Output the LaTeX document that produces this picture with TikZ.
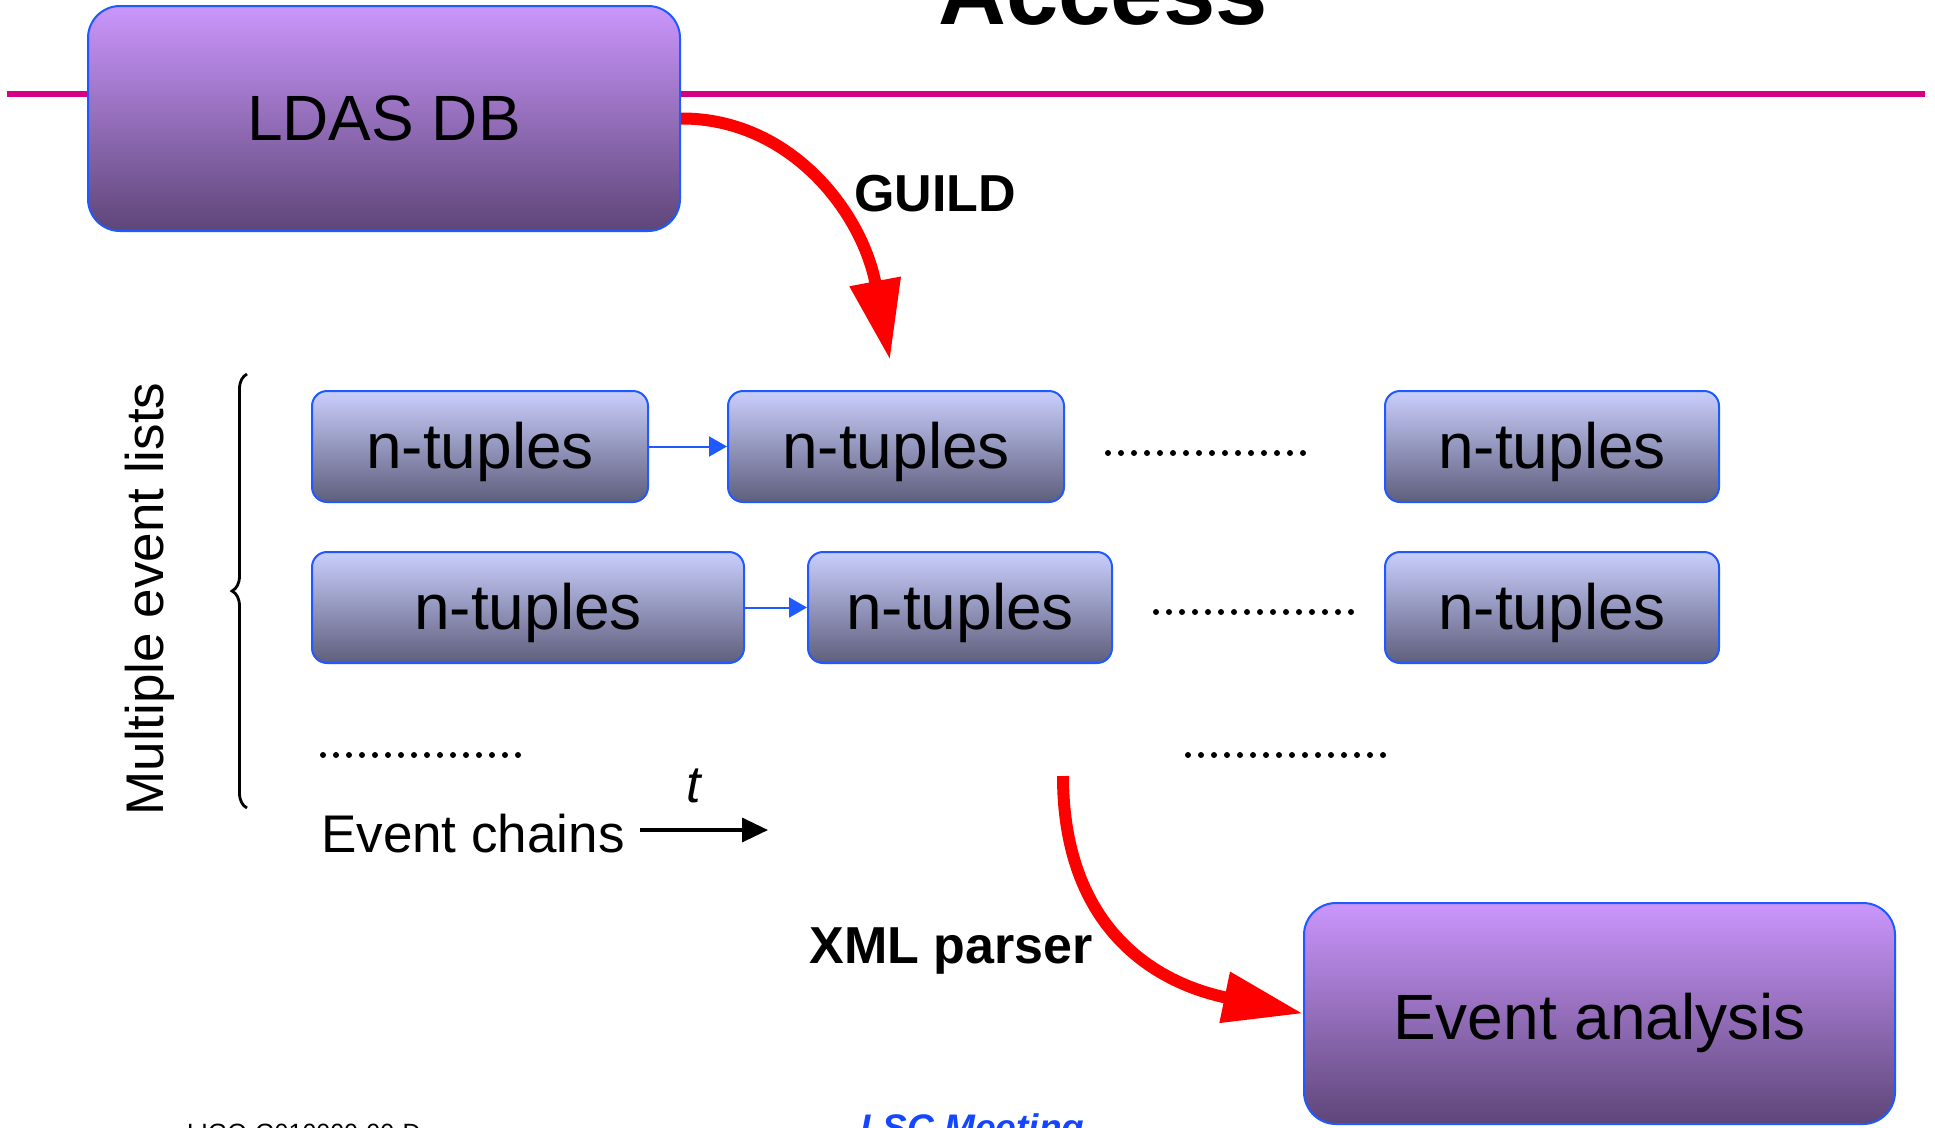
\documentclass[tikz,border=0pt]{standalone}
\usepackage{fontspec}
\setmainfont{Liberation Sans}
\usetikzlibrary{arrows.meta,decorations.pathreplacing}
\definecolor{boxborder}{RGB}{30,90,255}
\definecolor{ptop}{RGB}{202,150,252}
\definecolor{pbot}{RGB}{94,70,120}
\definecolor{ntop}{RGB}{202,206,252}
\definecolor{nbot}{RGB}{94,94,124}
\definecolor{magline}{RGB}{214,0,135}
\definecolor{arrred}{RGB}{255,0,0}
\definecolor{lscblue}{RGB}{20,70,255}
\begin{document}
\begin{tikzpicture}[x=1pt,y=-1pt,
  bigbox/.style={draw=boxborder, line width=2pt, rounded corners=32pt, top color=ptop, bottom color=pbot, inner sep=0pt, font=\fontsize{64}{70}\selectfont},
  ntbox/.style={draw=boxborder, line width=2pt, rounded corners=15pt, top color=ntop, bottom color=nbot, inner sep=0pt, minimum height=111pt, text height=47pt, text depth=3.5pt, font=\fontsize{64}{70}\selectfont},
  chain/.style={draw=boxborder, line width=2pt, -{Triangle[length=18pt,width=20pt]}},
  flow/.style={draw=arrred, line width=12pt, -{Triangle[length=80pt,width=49pt]}},
  lbl/.style={font=\fontsize{52}{56}\selectfont\bfseries},
  plain/.style={font=\fontsize{53}{58}\selectfont},
  dotrow/.style={fill=black}
]
\useasboundingbox (0,0) rectangle (1935,1127);
\clip (0,0) rectangle (1935,1127);

% rule and title
\draw[magline, line width=5.5pt] (7,94) -- (1925,94);
\node[font=\fontsize{94}{100}\selectfont\bfseries, anchor=base] (title) at (1103,24) {Access};

% main boxes
\node[bigbox, minimum width=592pt, minimum height=225pt] (ldas) at (384,118.5) {LDAS DB};
\node[bigbox, minimum width=591pt, minimum height=221pt, text height=51pt, text depth=0pt] (evt) at (1599.5,1013.5) {Event analysis};

% n-tuple boxes
\node[ntbox, minimum width=336pt] (a1) at (480,446.5) {n-tuples};
\node[ntbox, minimum width=336pt] (a2) at (896,446.5) {n-tuples};
\node[ntbox, minimum width=334pt] (a3) at (1552,446.5) {n-tuples};
\node[ntbox, minimum width=432pt] (b1) at (528,607.5) {n-tuples};
\node[ntbox, minimum width=304pt] (b2) at (960,607.5) {n-tuples};
\node[ntbox, minimum width=334pt] (b3) at (1552,607.5) {n-tuples};

\draw[chain] (a1.east) -- (a2.west);
\draw[chain] (b1.east) -- (b2.west);

% dotted ellipses
\foreach \i in {0,...,15} {
  \fill[dotrow] (1108+13*\i,453) circle[radius=3pt];
  \fill[dotrow] (1156+13*\i,612) circle[radius=3pt];
  \fill[dotrow] (323+13*\i,755) circle[radius=3pt];
  \fill[dotrow] (1188+13*\i,755) circle[radius=3pt];
}

% brace and side label
\draw[line width=2.8pt, decorate, decoration={brace, amplitude=15pt}] (247,808) -- (247,374);
\node[rotate=90, plain] (mel) at (150,599) {Multiple event lists};

% event chains and time arrow
\node[plain, anchor=base west, inner sep=0pt] (chains) at (321,852) {Event chains};
\node[font=\fontsize{52}{56}\selectfont\itshape, anchor=base] (tl) at (694,802) {t};
\coordinate (ts) at (640,830);
\coordinate (te) at (768,830);
\draw[line width=3.5pt, -{Triangle[length=26pt,width=24pt]}] (ts) -- (te);

% red flow arrows
\coordinate (gtip) at (890,360);
\draw[flow] (ldas.east) .. controls (790,118) and (862,212) .. (gtip);
\node[lbl] (guild) at (935,194) {GUILD};

\coordinate (xstart) at (1063,776);
\draw[flow] (xstart) .. controls (1063,920) and (1146,981) .. (evt.west);
\node[lbl, anchor=base] (xml) at (951,963) {XML parser};

% footer
\node[font=\fontsize{25}{28}\selectfont, anchor=base west, inner sep=0pt] (ref) at (187,1141) {LIGO-G010000-00-D};
\node[font=\fontsize{37}{40}\selectfont\bfseries\itshape, text=lscblue, anchor=base west, inner sep=0pt] (mtg) at (860,1140) {LSC Meeting};
\end{tikzpicture}
\end{document}
